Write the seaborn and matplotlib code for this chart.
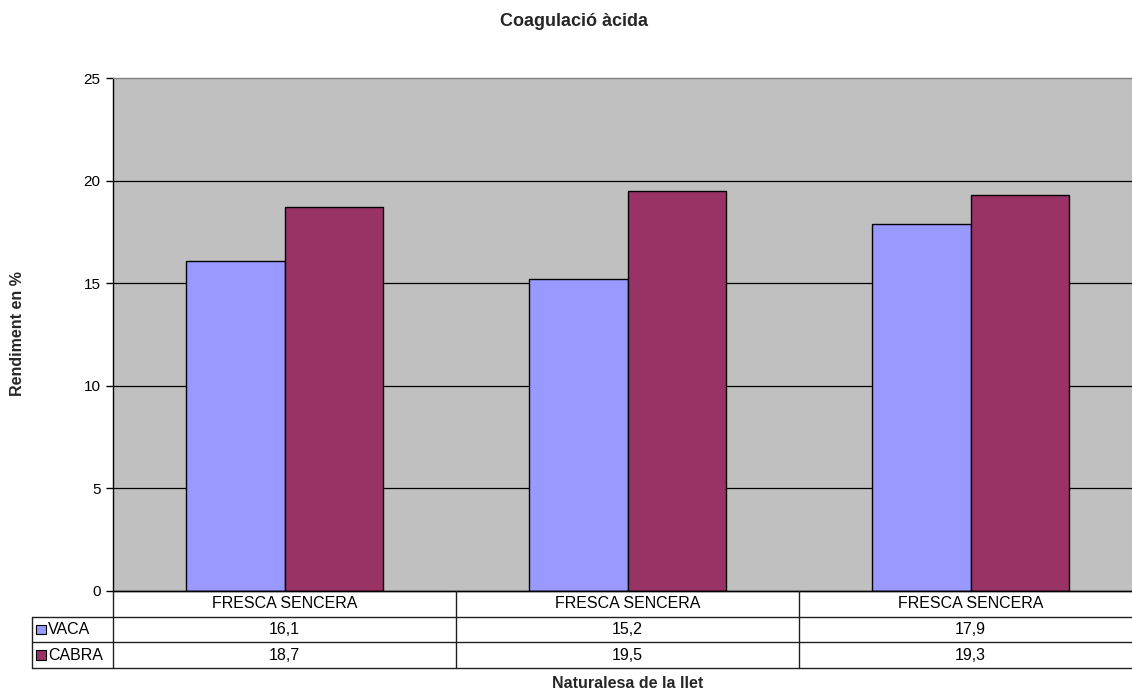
import matplotlib
matplotlib.use("Agg")
import matplotlib.pyplot as plt
import seaborn as sns
import pandas as pd
from matplotlib.patches import Rectangle

categories = ["FRESCA SENCERA", "FRESCA SENCERA", "FRESCA SENCERA"]
series = ["VACA", "CABRA"]
vaca = [16.1, 15.2, 17.9]
cabra = [18.7, 19.5, 19.3]
vaca_labels = ["16,1", "15,2", "17,9"]
cabra_labels = ["18,7", "19,5", "19,3"]
colors = ["#9999FF", "#993366"]
yticks = [0, 5, 10, 15, 20, 25]

sns.set_theme(style="white")
plt.rcParams['font.family'] = ['Liberation Sans', 'DejaVu Sans']

rows = []
for i in range(len(categories)):
    rows.append({"grup": i, "serie": series[0], "valor": vaca[i]})
    rows.append({"grup": i, "serie": series[1], "valor": cabra[i]})
df = pd.DataFrame(rows)

W, H = 1132, 689
fig = plt.figure(figsize=(W / 100, H / 100), dpi=100)
L, R, T, B = 113, 1142, 78, 591
ax = fig.add_axes([L / W, 1 - B / H, (R - L) / W, (B - T) / H])
ax.set_facecolor("#C0C0C0")

sns.barplot(data=df, x="grup", y="valor", hue="serie", order=[0, 1, 2],
            hue_order=series, palette=colors, width=0.574, gap=0,
            edgecolor="black", linewidth=1.0, saturation=1, ax=ax,
            legend=False, zorder=3)

ax.set_xlim(-0.5, 2.5)
ax.set_ylim(0, 25)
ax.set_yticks(yticks)
ax.set_yticklabels([str(t) for t in yticks], fontsize=11)
for t in yticks[1:-1]:
    ax.axhline(t, color="black", linewidth=0.9, zorder=1)
ax.set_xticks([])
ax.set_xlabel("")
ax.set_ylabel("")
for s in ["right", "bottom"]:
    ax.spines[s].set_visible(False)
ax.spines["top"].set_color("#808080")
ax.spines["top"].set_linewidth(1.0)
ax.spines["left"].set_color("black")
ax.spines["left"].set_linewidth(1.0)
ax.axhline(0, color="black", linewidth=1.0, zorder=4, clip_on=False)
ax.tick_params(axis="y", direction="out", length=5, width=1, color="black",
               left=True, pad=4, labelcolor="black")

# data table
TB = 668
axt = fig.add_axes([L / W, 1 - TB / H, (R - L) / W, (TB - B) / H])
axt.set_xlim(-0.5, 2.5)
axt.set_ylim(0, 3)
axt.axis("off")
scale = 3.0 / (R - L)
xl = -0.5 - (L - 32) * scale
lc = "#202020"
lw = 1.0
axt.plot([-0.5, 2.5], [3, 3], color="black", lw=lw, clip_on=False)
for yy in [2, 1, 0]:
    axt.plot([xl, 2.5], [yy, yy], color=lc, lw=lw, clip_on=False)
axt.plot([xl, xl], [0, 2], color=lc, lw=lw, clip_on=False)
for xx in [-0.5, 0.5, 1.5]:
    axt.plot([xx, xx], [0, 3], color=lc, lw=lw, clip_on=False)

fs = 11.5
for i, c in enumerate(categories):
    axt.text(i, 2.5, c, ha="center", va="center", fontsize=fs, color="black")
    axt.text(i, 1.5, vaca_labels[i], ha="center", va="center", fontsize=fs, color="black")
    axt.text(i, 0.5, cabra_labels[i], ha="center", va="center", fontsize=fs, color="black")

sq = 10 * scale
sqh = 10 / 26.0
for j, (name, col) in enumerate(zip(series, colors)):
    yc = 1.5 - j
    axt.add_patch(Rectangle((xl + 4 * scale, yc - sqh / 2), sq, sqh,
                            facecolor=col, edgecolor="black", lw=0.8, clip_on=False))
    axt.text(xl + 16 * scale, yc, name, ha="left", va="center", fontsize=fs, color="black")

fig.text(574 / W, 1 - 21 / H, "Coagulació àcida", ha="center", va="center",
         fontsize=13, fontweight="bold")
fig.text(18 / W, 1 - 334 / H, "Rendiment en %", ha="center", va="center",
         rotation=90, fontsize=11.5, fontweight="bold")
fig.text(628 / W, 1 - 683 / H, "Naturalesa de la llet", ha="center", va="center",
         fontsize=11.5, fontweight="bold")

fig.savefig("out.png", dpi=100, facecolor="white")
